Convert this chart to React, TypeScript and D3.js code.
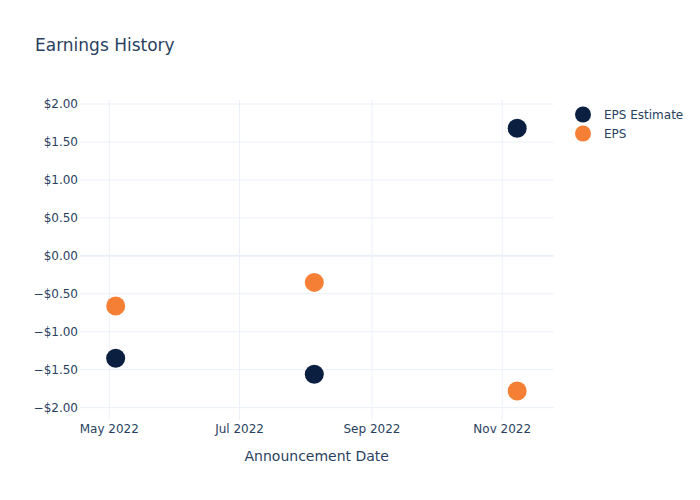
import React from "react";
import * as d3 from "d3";

const dates = ["2022-05-04", "2022-08-05", "2022-11-08"];
const epsEstimate = [-1.35, -1.56, 1.68];
const eps = [-0.66, -0.35, -1.78];
const xTickDates = ["2022-05-01", "2022-07-01", "2022-09-01", "2022-11-01"];
const yTicks = [-2, -1.5, -1, -0.5, 0, 0.5, 1, 1.5, 2];
const seriesNames = ["EPS Estimate", "EPS"];
const seriesColors = ["#0b1f41", "#f58035"];

const W = 700;
const H = 500;
const M = { left: 80, right: 146.5, top: 100, bottom: 80 };
const FONT = "'DejaVu Sans', verdana, arial, sans-serif";
const TXT = "#2a3f5f";
const GRID = "#ebf0f8";

const parse = (s: string) => new Date(s + "T00:00:00Z");

export default function App() {
  const x = d3
    .scaleUtc()
    .domain([new Date(Date.UTC(2022, 3, 17, 7)), new Date(Date.UTC(2022, 10, 25, 0))])
    .range([M.left, W - M.right]);
  const y = d3.scaleLinear().domain([-2.163, 2.053]).range([H - M.bottom, M.top]);
  const fmtX = d3.utcFormat("%b %Y");
  const fmtY = (v: number) => (v < 0 ? "\u2212$" : "$") + d3.format(".2f")(Math.abs(v));
  const series = [epsEstimate, eps];

  return (
    <div style={{ position: "absolute", left: 0, top: 0 }}>
      <svg width={W} height={H} style={{ display: "block", background: "#fff" }} fontFamily={FONT}>
        <text x={35} y={50.5} fontSize={17} fill={TXT}>Earnings History</text>
        {xTickDates.map((d) => (
          <line key={"gx" + d} x1={x(parse(d))} x2={x(parse(d))} y1={M.top} y2={H - M.bottom} stroke={GRID} strokeWidth={1} />
        ))}
        {yTicks.map((v) => (
          <line key={"gy" + v} x1={M.left} x2={W - M.right} y1={y(v)} y2={y(v)} stroke={GRID} strokeWidth={v === 0 ? 2 : 1} />
        ))}
        {yTicks.map((v) => (
          <text key={"ty" + v} x={78} y={y(v)} dy="0.35em" textAnchor="end" fontSize={12} fill={TXT}>{fmtY(v)}</text>
        ))}
        {xTickDates.map((d) => (
          <text key={"tx" + d} x={x(parse(d))} y={433} textAnchor="middle" fontSize={12} fill={TXT}>{fmtX(parse(d))}</text>
        ))}
        <text x={(M.left + W - M.right) / 2} y={461} textAnchor="middle" fontSize={14} fill={TXT}>Announcement Date</text>
        {series.map((vals, si) =>
          vals.map((v, i) => (
            <circle key={"p" + si + "-" + i} cx={x(parse(dates[i]))} cy={y(v)} r={9.5} fill={seriesColors[si]} />
          ))
        )}
        {seriesNames.map((n, i) => (
          <g key={"lg" + n} transform={`translate(583,${114.5 + i * 19})`}>
            <circle cx={0} cy={0} r={8} fill={seriesColors[i]} />
            <text x={21} y={0} dy="0.35em" fontSize={12} fill={TXT}>{n}</text>
          </g>
        ))}
      </svg>
    </div>
  );
}
